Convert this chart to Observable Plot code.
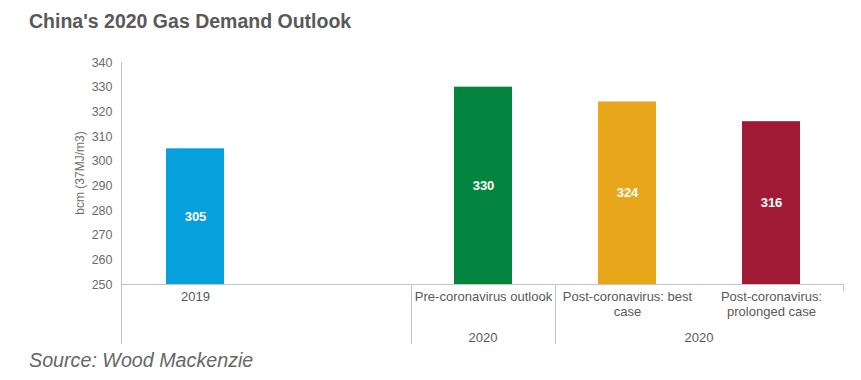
<!DOCTYPE html>
<html>
<head>
<meta charset="utf-8">
<script src="https://cdn.jsdelivr.net/npm/d3@7"></script>
<script src="https://cdn.jsdelivr.net/npm/@observablehq/plot@0.6"></script>
<style>
  html, body { margin: 0; padding: 0; background: #fff; }
  body { width: 861px; height: 380px; position: relative; overflow: hidden; font-family: "Liberation Sans", Arial, sans-serif; }
  #title { position: absolute; left: 29px; top: 11px; font-size: 19.5px; line-height: 20px; font-weight: bold; color: #595959; white-space: nowrap; }
  #chart { position: absolute; left: 0; top: 46px; }
  #source { position: absolute; left: 29px; top: 350px; font-size: 19.7px; line-height: 20px; font-style: italic; color: #666; white-space: nowrap; }
</style>
</head>
<body>
<div id="title"></div>
<div id="chart"></div>
<div id="source"></div>
<script>
const titleText = "China's 2020 Gas Demand Outlook";
const sourceText = "Source: Wood Mackenzie";
const yLabel = "bcm (37MJ/m3)";

const categories = ["2019", " ", "Pre-coronavirus outlook", "Post-coronavirus: best case", "Post-coronavirus: prolonged case"];
const categoryLabels = ["2019", "", "Pre-coronavirus outlook", "Post-coronavirus: best\ncase", "Post-coronavirus:\nprolonged case"];
const barCategories = ["2019", "Pre-coronavirus outlook", "Post-coronavirus: best case", "Post-coronavirus: prolonged case"];
const barValues = [305, 330, 324, 316];
const barColors = ["#06a0dc", "#04853f", "#e8a71a", "#a21b36"];
const yDomain = [250, 340];
const yTicks = [250, 260, 270, 280, 290, 300, 310, 320, 330, 340];
const groupLabels = ["2020", "2020"];
const groupStart = ["Pre-coronavirus outlook", "Post-coronavirus: best case"];
const groupEnd = ["Pre-coronavirus outlook", "Post-coronavirus: prolonged case"];
// separator lines sit on the left edge of these categories' slots
const separatorBefore = ["Pre-coronavirus outlook", "Post-coronavirus: best case"];

document.getElementById("title").textContent = titleText;
document.getElementById("source").textContent = sourceText;

const bars = barCategories.map((c, i) => ({cat: c, value: barValues[i], color: barColors[i]}));
const labelMap = new Map(categories.map((c, i) => [c, categoryLabels[i]]));

const lineColor = "#c4c4c4";

function frameLines(index, scales, values, dims) {
  const x = scales.x, y = scales.y;
  const step = x.step(), bw = x.bandwidth();
  const gap = (step - bw) / 2;
  const wrap = d3.create("svg:g");
  const g = wrap.append("g").attr("fill", "none").attr("stroke", lineColor).attr("stroke-width", 1);
  const left = dims.marginLeft - 0.5;
  const right = dims.width - dims.marginRight;
  const y0 = Math.round(y(yDomain[0])) + 0.5;
  const yTop = y(yDomain[1]);
  const yBottom = dims.height - 2;
  // y axis line
  g.append("line").attr("x1", left).attr("x2", left).attr("y1", yTop).attr("y2", yBottom);
  // baseline
  g.append("line").attr("x1", left).attr("x2", right).attr("y1", y0).attr("y2", y0);
  // right end tick
  g.append("line").attr("x1", right - 0.5).attr("x2", right - 0.5).attr("y1", y0).attr("y2", y0 + 7);
  // group separators
  for (const c of separatorBefore) {
    const sx = Math.round(x(c) - gap) + 0.5;
    g.append("line").attr("x1", sx).attr("x2", sx).attr("y1", y0).attr("y2", yBottom);
  }
  // group labels
  const t = wrap.append("g").attr("fill", "#595959").attr("font-size", 13).attr("text-anchor", "middle").attr("dominant-baseline", "central");
  groupLabels.forEach((lab, i) => {
    const cx = (x(groupStart[i]) + x(groupEnd[i]) + bw) / 2;
    t.append("text").attr("x", cx).attr("y", y0 + 53).text(lab);
  });
  // y axis label
  const ly = (y(yDomain[0]) + y(yDomain[1])) / 2;
  wrap.append("text")
    .attr("transform", `translate(${dims.marginLeft - 42},${ly}) rotate(-90)`)
    .attr("text-anchor", "middle").attr("dominant-baseline", "central")
    .attr("font-size", 12).attr("fill", "#707070").text(yLabel);
  return wrap.node();
}

const chart = Plot.plot({
  width: 861,
  height: 300,
  marginLeft: 122,
  marginRight: 17,
  marginTop: 16,
  marginBottom: 62,
  style: {fontFamily: "'Liberation Sans', Arial, sans-serif", background: "#fff", color: "#666"},
  x: {domain: categories, paddingInner: 0.6, paddingOuter: 0.3, axis: null},
  y: {domain: yDomain, axis: null},
  marks: [
    Plot.barY(bars, {x: "cat", y1: yDomain[0], y2: "value", fill: "color"}),
    Plot.text(bars, {x: "cat", y: d => (yDomain[0] + d.value) / 2, text: d => String(d.value), fill: "white", fontWeight: "bold", fontSize: 13}),
    Plot.axisY(yTicks, {tickSize: 0, tickPadding: 10, fontSize: 12.5, fill: "#6b6b6b", label: null}),
    Plot.text(categories, {x: d => d, text: d => labelMap.get(d), frameAnchor: "bottom", lineAnchor: "top", dy: 6, lineHeight: 1.15, fontSize: 13, fill: "#595959"}),
    frameLines
  ]
});
document.getElementById("chart").appendChild(chart);
</script>
</body>
</html>
